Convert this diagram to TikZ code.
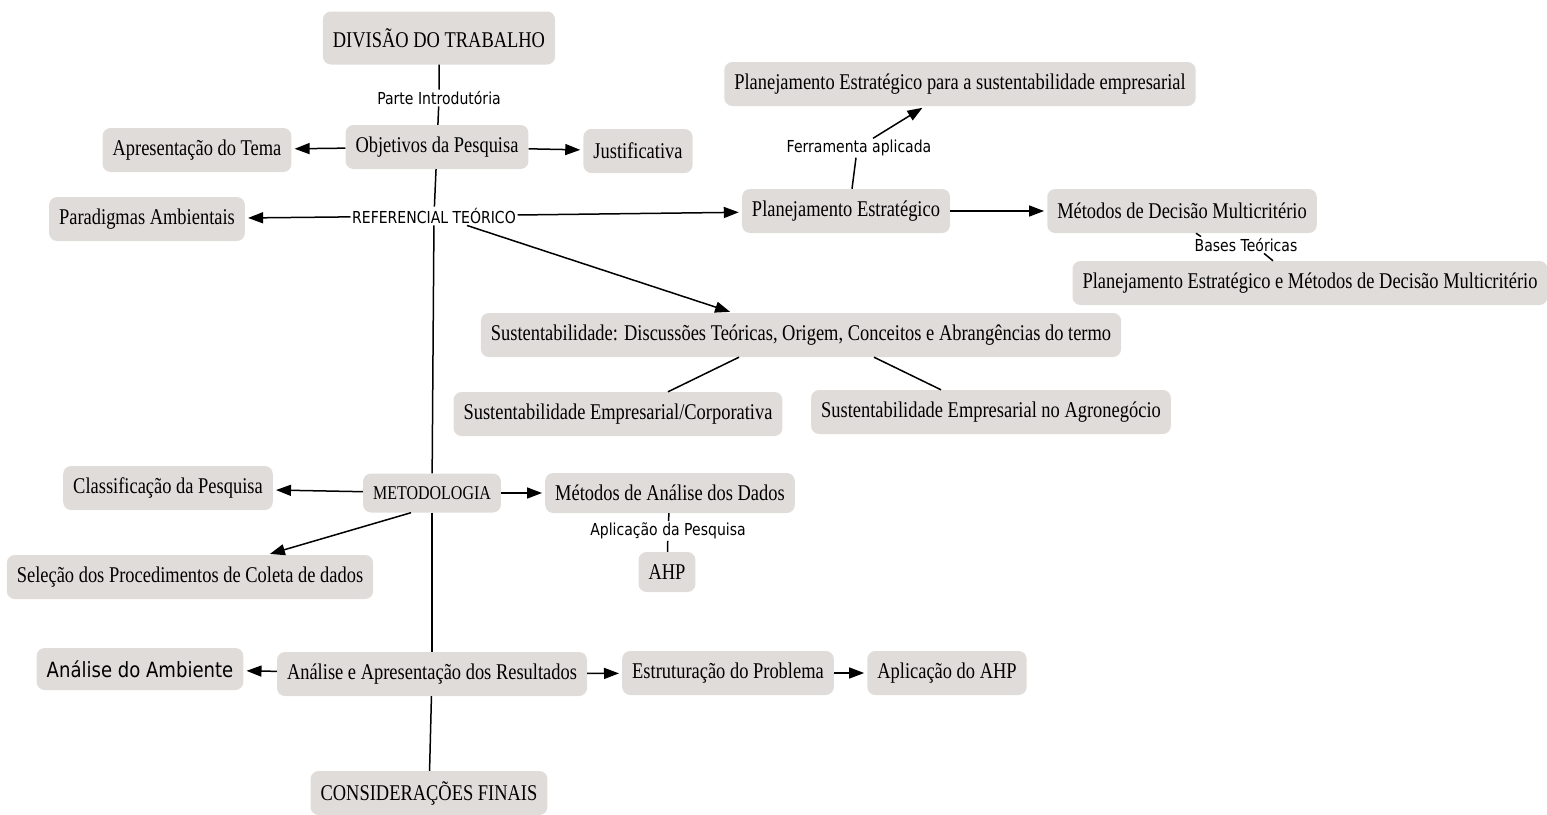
\documentclass[tikz,border=0pt]{standalone}
\usepackage{fontspec}
\setmainfont{Liberation Serif}
\newfontfamily\boxfont[FakeStretch=0.82]{Liberation Serif}
\newfontfamily\tagfont[FakeStretch=0.85]{DejaVu Sans}
\newfontfamily\plainsans[FakeStretch=0.86]{DejaVu Sans}
\usetikzlibrary{arrows.meta}
\definecolor{boxgray}{RGB}{224,220,218}
\begin{document}
\begin{tikzpicture}[x=1pt,y=-1pt,
  topic/.style={fill=boxgray, rounded corners=8pt, inner xsep=10pt, inner ysep=4pt,
    minimum height=44pt, font=\boxfont\fontsize{22.5}{26}\selectfont},
  tag/.style={inner sep=1.5pt, font=\tagfont\fontsize{16.5}{19}\selectfont},
  link/.style={line width=1.5pt, black},
  arr/.style={link, shorten >=3pt, -{Triangle[length=15pt,width=11pt]}}
]
\useasboundingbox (0,0) rectangle (1547,814);

% boxes
\node[topic, minimum height=53pt] (divisao) at (439,38) {DIVISÃO DO TRABALHO};
\node[topic] (objetivos) at (437,147) {Objetivos da Pesquisa};
\node[topic] (apresentacao) at (197,150) {Apresentação do Tema};
\node[topic] (justificativa) at (638,151) {Justificativa};
\node[topic] (paradigmas) at (147,219) {Paradigmas Ambientais};
\node[topic] (planEst) at (846,211) {Planejamento Estratégico};
\node[topic] (metodosDec) at (1182,211) {Métodos de Decisão Multicritério};
\node[topic] (planSust) at (960,84) {Planejamento Estratégico para a sustentabilidade empresarial};
\node[topic] (planMet) at (1310,283) {Planejamento Estratégico e Métodos de Decisão Multicritério};
\node[topic] (sust) at (801,335) {Sustentabilidade: Discussões Teóricas, Origem, Conceitos e Abrangências do termo};
\node[topic] (sustEmp) at (618,414) {Sustentabilidade Empresarial/Corporativa};
\node[topic] (sustAgro) at (991,412) {Sustentabilidade Empresarial no Agronegócio};
\node[topic] (classif) at (168,488) {Classificação da Pesquisa};
\node[topic, minimum height=39pt, font=\boxfont\fontsize{19.5}{23}\selectfont] (metodologia) at (432,493) {METODOLOGIA};
\node[topic, minimum height=40pt] (metAnal) at (670,493) {Métodos de Análise dos Dados};
\node[topic] (selecao) at (190,577) {Seleção dos Procedimentos de Coleta de dados};
\node[topic, minimum height=40pt] (ahp) at (667,572) {AHP};
\node[topic, minimum height=42pt, font=\plainsans\fontsize{21}{25}\selectfont] (analAmb) at (140,669) {Análise do Ambiente};
\node[topic] (analRes) at (432,674) {Análise e Apresentação dos Resultados};
\node[topic] (estrut) at (728,673) {Estruturação do Problema};
\node[topic] (aplic) at (947,673) {Aplicação do AHP};
\node[topic] (consid) at (429,793) {CONSIDERAÇÕES FINAIS};

% link labels
\node[tag] (parte) at (439,98) {Parte Introdutória};
\node[tag] (ref) at (434,216) {REFERENCIAL TEÓRICO};
\node[tag] (ferr) at (859,148) {Ferramenta aplicada};
\node[tag] (bases) at (1246,245) {Bases Teóricas};
\node[tag] (aplPesq) at (668,531) {Aplicação da Pesquisa};

% connectors
\draw[link] (divisao) -- (parte) -- (objetivos);
\draw[arr] (objetivos) -- (apresentacao);
\draw[arr] (objetivos) -- (justificativa);
\draw[link] (objetivos) -- (ref);
\draw[arr] (ref) -- (paradigmas);
\draw[arr] (ref) -- (planEst);
\draw[arr] ([xshift=33pt]ref.south) -- ([xshift=-68pt]sust.north);
\draw[link] (ref) -- (metodologia);
\draw[link] (metodologia) -- (analRes);
\draw[link] (analRes) -- (consid);
\draw[link] ([xshift=6pt]planEst.north) -- ([xshift=-3pt]ferr.south);
\draw[arr] ([xshift=14pt]ferr.north) -- ([xshift=-35pt]planSust.south);
\draw[arr] (planEst) -- (metodosDec);
\draw[link] ([xshift=14pt]metodosDec.south) -- ([xshift=-45pt]bases.north);
\draw[link] ([xshift=18pt]bases.south) -- ([xshift=-37pt]planMet.north);
\draw[link] ([xshift=-62pt]sust.south) -- ([xshift=50pt]sustEmp.north);
\draw[link] ([xshift=73pt]sust.south) -- ([xshift=-50pt]sustAgro.north);
\draw[arr] (metodologia) -- (classif);
\draw[arr] (metodologia) -- (metAnal);
\draw[arr] ([xshift=-21pt]metodologia.south) -- ([xshift=77pt]selecao.north);
\draw[link] (metAnal) -- (aplPesq) -- (ahp);
\draw[arr] (analRes) -- (analAmb);
\draw[arr] (analRes) -- (estrut);
\draw[arr] (estrut) -- (aplic);
\end{tikzpicture}
\end{document}
